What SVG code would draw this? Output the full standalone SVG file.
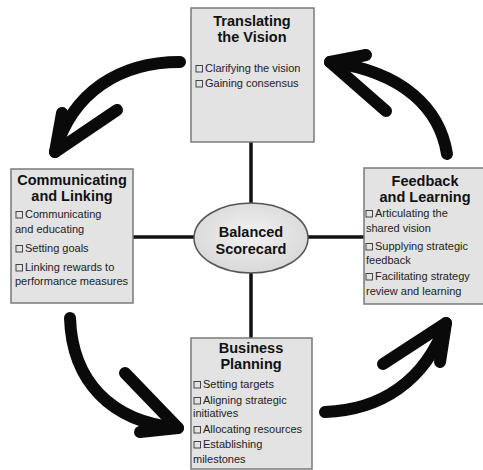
<svg xmlns="http://www.w3.org/2000/svg" width="483" height="470" viewBox="0 0 483 470">
<defs>
<style>
.box{fill:#e3e3e3;stroke:#7a7a7a;stroke-width:1.5}
.title{font-family:"Liberation Sans",Arial,sans-serif;font-weight:bold;font-size:14.5px;fill:#111;text-anchor:middle}
.item{font-family:"Liberation Sans",Arial,sans-serif;font-size:11px;fill:#222}
.cb{fill:none;stroke:#333;stroke-width:0.9}
.conn{stroke:#111;stroke-width:3.5;fill:none}
.arrow{stroke:#0a0a0a;stroke-width:12;fill:none;stroke-linecap:round;stroke-linejoin:round}
</style>
<radialGradient id="eg" cx="0.5" cy="0.45" r="0.6">
<stop offset="0" stop-color="#f2f2f2"/>
<stop offset="1" stop-color="#d6d6d6"/>
</radialGradient>
</defs>
<rect width="483" height="470" fill="#ffffff"/>
<g id="connectors">
<line class="conn" x1="251" y1="142" x2="251" y2="204"/>
<line class="conn" x1="251" y1="272" x2="251" y2="338"/>
<line class="conn" x1="133" y1="237" x2="195" y2="237"/>
<line class="conn" x1="307" y1="237" x2="364" y2="237"/>
<path class="arrow" d="M180,62 C120,62 72,92 55,152"/>
<path class="arrow" d="M62,113 L55,152 L117,110"/>
<path class="arrow" d="M447,154 C440,110 405,72 330,62"/>
<path class="arrow" d="M366,55 L330,62 L386,111"/>
<path class="arrow" d="M70,318 C72,380 110,422 178,428"/>
<path class="arrow" d="M125,373 L178,428 L140,432"/>
<path class="arrow" d="M325,412 C380,410 425,382 446,323"/>
<path class="arrow" d="M383,364 L446,323 L440,362"/>
</g>
<g id="translating">
<rect class="box" x="191" y="8" width="123" height="134"/>
<text class="title" x="252" y="26">Translating</text>
<text class="title" x="252" y="42">the Vision</text>
<rect class="cb" x="196" y="65.5" width="6.5" height="6.5"/>
<text class="item" x="205" y="72">Clarifying the vision</text>
<rect class="cb" x="196" y="80.5" width="6.5" height="6.5"/>
<text class="item" x="205" y="87">Gaining consensus</text>
</g>
<g id="communicating">
<rect class="box" x="11" y="169" width="122" height="134"/>
<text class="title" x="72" y="185">Communicating</text>
<text class="title" x="72" y="201">and Linking</text>
<rect class="cb" x="16" y="211.5" width="6.5" height="6.5"/>
<text class="item" x="25" y="218">Communicating</text>
<text class="item" x="15" y="233">and educating</text>
<rect class="cb" x="16" y="245.5" width="6.5" height="6.5"/>
<text class="item" x="25" y="252">Setting goals</text>
<rect class="cb" x="16" y="264.5" width="6.5" height="6.5"/>
<text class="item" x="25" y="271">Linking rewards to</text>
<text class="item" x="15" y="285">performance measures</text>
</g>
<g id="feedback">
<rect class="box" x="364" y="168" width="120" height="136"/>
<text class="title" x="425" y="186">Feedback</text>
<text class="title" x="425" y="202">and Learning</text>
<rect class="cb" x="366" y="210.5" width="6.5" height="6.5"/>
<text class="item" x="375" y="217">Articulating the</text>
<text class="item" x="366" y="232">shared vision</text>
<rect class="cb" x="366" y="243.5" width="6.5" height="6.5"/>
<text class="item" x="375" y="250">Supplying strategic</text>
<text class="item" x="366" y="264">feedback</text>
<rect class="cb" x="366" y="273.5" width="6.5" height="6.5"/>
<text class="item" x="375" y="280">Facilitating strategy</text>
<text class="item" x="366" y="295">review and learning</text>
</g>
<g id="business">
<rect class="box" x="191" y="338" width="121" height="131"/>
<text class="title" x="251" y="353">Business</text>
<text class="title" x="251" y="369">Planning</text>
<rect class="cb" x="194" y="381.5" width="6.5" height="6.5"/>
<text class="item" x="203" y="388">Setting targets</text>
<rect class="cb" x="194" y="397.5" width="6.5" height="6.5"/>
<text class="item" x="203" y="404">Aligning strategic</text>
<text class="item" x="193" y="417">initiatives</text>
<rect class="cb" x="194" y="426.5" width="6.5" height="6.5"/>
<text class="item" x="203" y="433">Allocating resources</text>
<rect class="cb" x="194" y="441.5" width="6.5" height="6.5"/>
<text class="item" x="203" y="448">Establishing</text>
<text class="item" x="193" y="463">milestones</text>
</g>
<g id="scorecard">
<ellipse cx="251" cy="238" rx="57" ry="35" fill="url(#eg)" stroke="#555" stroke-width="1.5"/>
<text class="title" x="251" y="237">Balanced</text>
<text class="title" x="251" y="254">Scorecard</text>
</g>
</svg>
